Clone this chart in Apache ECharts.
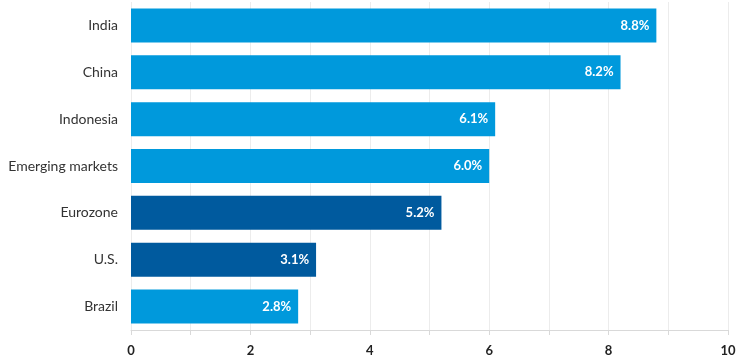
<!DOCTYPE html>
<html><head><meta charset="utf-8">
<script src="https://cdn.jsdelivr.net/npm/echarts@6/dist/echarts.min.js"></script>
<style>html,body{margin:0;padding:0;background:#fff}#c{width:743px;height:364px}</style>
</head><body><div id="c"></div>
<script>
const categories = ["India","China","Indonesia","Emerging markets","Eurozone","U.S.","Brazil"];
const values = [8.8,8.2,6.1,6.0,5.2,3.1,2.8];
const darkCategories = ["Eurozone","U.S."];
const xTickLabels = [0,2,4,6,8,10];

const LIGHT = "#0099DC", DARK = "#005A9E";
const chart = echarts.init(document.getElementById('c'), null, {renderer:'canvas'});
chart.setOption({
  animation:false,
  grid:{left:131,right:15,top:2,bottom:34,containLabel:false},
  xAxis:{type:'value',min:0,max:10,interval:1,
    axisLine:{show:true,lineStyle:{color:'#d9d9d9',width:1}},
    axisTick:{show:true,length:5,lineStyle:{color:'#d9d9d9'}},
    splitLine:{show:true,lineStyle:{color:'#ececec',width:1}},
    axisLabel:{margin:14,color:'#222',fontFamily:'Lato',fontWeight:'bold',fontSize:13,
      formatter:v=>xTickLabels.includes(v)?String(v):''}
  },
  yAxis:{type:'category',data:categories,inverse:true,
    axisLine:{show:false},axisTick:{show:false},splitLine:{show:false},
    axisLabel:{margin:13,color:'#333',fontFamily:'Lato',fontSize:14}
  },
  series:[{type:'bar',barWidth:34,
    data:values.map((v,i)=>({value:v,itemStyle:{color:darkCategories.includes(categories[i])?DARK:LIGHT}})),
    label:{show:true,position:'insideRight',distance:7,color:'#fff',fontFamily:'Lato',fontWeight:'bold',fontSize:13,
      formatter:p=>p.value.toFixed(1)+'%'}
  }]
});
</script></body></html>
